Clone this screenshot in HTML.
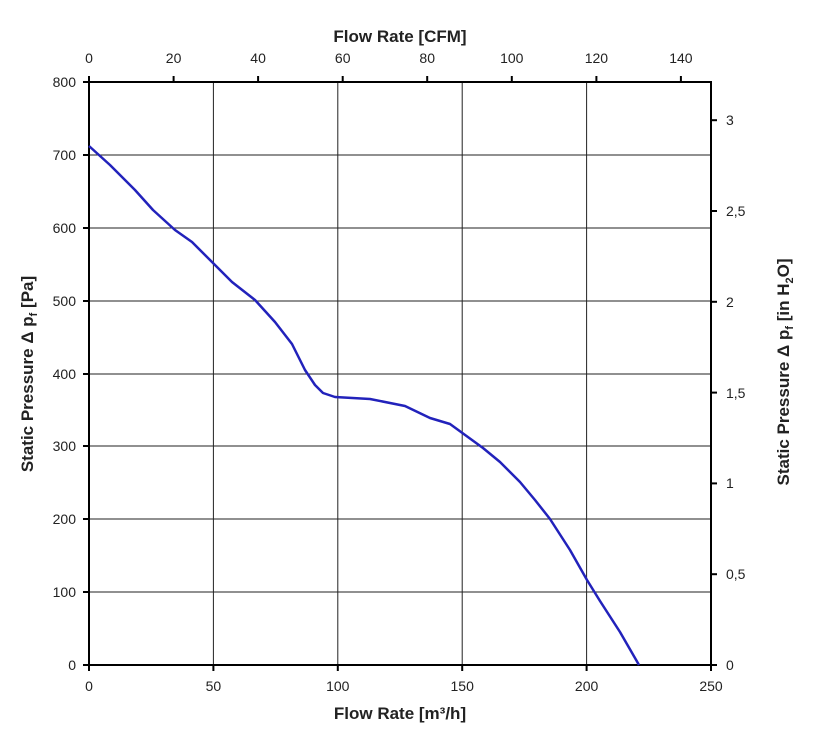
<!DOCTYPE html>
<html><head><style>body{margin:0;background:#fff}svg{display:block}</style></head><body>
<svg width="819" height="751" xmlns="http://www.w3.org/2000/svg" font-family="Liberation Sans, sans-serif" font-size="14" fill="#222">
<g stroke="#222" stroke-width="1">
<line x1="213.4" y1="82" x2="213.4" y2="665"/><line x1="337.8" y1="82" x2="337.8" y2="665"/><line x1="462.2" y1="82" x2="462.2" y2="665"/><line x1="586.6" y1="82" x2="586.6" y2="665"/>
<line x1="89" y1="155" x2="711" y2="155"/><line x1="89" y1="228" x2="711" y2="228"/><line x1="89" y1="301" x2="711" y2="301"/><line x1="89" y1="374" x2="711" y2="374"/><line x1="89" y1="446" x2="711" y2="446"/><line x1="89" y1="519" x2="711" y2="519"/><line x1="89" y1="592" x2="711" y2="592"/>
</g>
<rect x="89" y="82" width="622" height="583" fill="none" stroke="#000" stroke-width="2"/>
<g stroke="#000" stroke-width="2">
<line x1="83" y1="82" x2="89" y2="82"/><line x1="83" y1="155" x2="89" y2="155"/><line x1="83" y1="228" x2="89" y2="228"/><line x1="83" y1="301" x2="89" y2="301"/><line x1="83" y1="374" x2="89" y2="374"/><line x1="83" y1="446" x2="89" y2="446"/><line x1="83" y1="519" x2="89" y2="519"/><line x1="83" y1="592" x2="89" y2="592"/><line x1="83" y1="665" x2="89" y2="665"/>
<line x1="89" y1="665" x2="89" y2="671"/><line x1="213.4" y1="665" x2="213.4" y2="671"/><line x1="337.8" y1="665" x2="337.8" y2="671"/><line x1="462.2" y1="665" x2="462.2" y2="671"/><line x1="586.6" y1="665" x2="586.6" y2="671"/><line x1="711" y1="665" x2="711" y2="671"/>
<line x1="89" y1="76" x2="89" y2="82"/><line x1="173.6" y1="76" x2="173.6" y2="82"/><line x1="258.1" y1="76" x2="258.1" y2="82"/><line x1="342.7" y1="76" x2="342.7" y2="82"/><line x1="427.2" y1="76" x2="427.2" y2="82"/><line x1="511.8" y1="76" x2="511.8" y2="82"/><line x1="596.4" y1="76" x2="596.4" y2="82"/><line x1="680.9" y1="76" x2="680.9" y2="82"/>
<line x1="711" y1="665" x2="717" y2="665"/><line x1="711" y1="574.2" x2="717" y2="574.2"/><line x1="711" y1="483.4" x2="717" y2="483.4"/><line x1="711" y1="392.6" x2="717" y2="392.6"/><line x1="711" y1="301.8" x2="717" y2="301.8"/><line x1="711" y1="211" x2="717" y2="211"/><line x1="711" y1="120.2" x2="717" y2="120.2"/>
</g>
<polyline fill="none" stroke="#2222bb" stroke-width="2.5" stroke-linejoin="round" points="89,146 110,165 135,190 153,210 175,230 192,242 210,260 232,282 255,300 275,322 292,344 305,370 315,385 323,393 335,397 370,399 405,406 430,418 450,424 483,448 500,462 520,482 535,500 550,519 570,550 587,580 600,601 620,632 639,665"/>
<g text-anchor="end">
<text x="76" y="87">800</text><text x="76" y="160">700</text><text x="76" y="233">600</text><text x="76" y="306">500</text><text x="76" y="379">400</text><text x="76" y="451">300</text><text x="76" y="524">200</text><text x="76" y="597">100</text><text x="76" y="670">0</text>
</g>
<g text-anchor="middle">
<text x="89" y="691">0</text><text x="213.4" y="691">50</text><text x="337.8" y="691">100</text><text x="462.2" y="691">150</text><text x="586.6" y="691">200</text><text x="711" y="691">250</text>
<text x="89" y="63">0</text><text x="173.6" y="63">20</text><text x="258.1" y="63">40</text><text x="342.7" y="63">60</text><text x="427.2" y="63">80</text><text x="511.8" y="63">100</text><text x="596.4" y="63">120</text><text x="680.9" y="63">140</text>
</g>
<g text-anchor="start">
<text x="726" y="670">0</text><text x="726" y="579">0,5</text><text x="726" y="488">1</text><text x="726" y="398">1,5</text><text x="726" y="307">2</text><text x="726" y="216">2,5</text><text x="726" y="125">3</text>
</g>
<g font-weight="bold" font-size="17" text-anchor="middle" fill="#222">
<text x="400" y="42">Flow Rate [CFM]</text>
<text x="400" y="719">Flow Rate [m³/h]</text>
<text transform="translate(33,374) rotate(-90)">Static Pressure Δ p<tspan font-size="11" dy="4">f</tspan><tspan dy="-4"> [Pa]</tspan></text>
<text transform="translate(789,372) rotate(-90)">Static Pressure Δ p<tspan font-size="11" dy="4">f</tspan><tspan dy="-4"> [in H</tspan><tspan font-size="11" dy="4">2</tspan><tspan dy="-4">O]</tspan></text>
</g>
</svg>
</body></html>
